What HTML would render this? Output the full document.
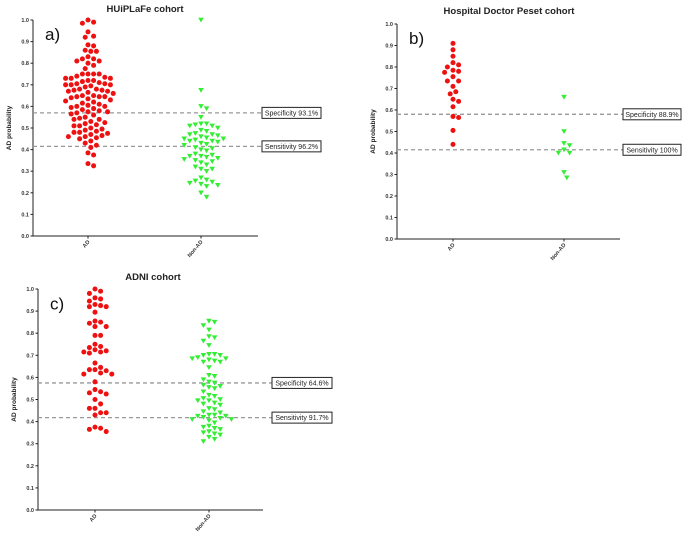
<!DOCTYPE html>
<html><head><meta charset="utf-8"><style>
html,body{margin:0;padding:0;background:#fff;}
svg{display:block;font-family:"Liberation Sans",sans-serif;}
</style></head><body>
<svg id="fig" width="685" height="538" viewBox="0 0 685 538" xmlns="http://www.w3.org/2000/svg"></svg>
<script>
// Panel a: HUiPLaFe cohort
const aAD = [1.0,0.99,0.985,0.945,0.925,0.92,0.885,0.88,0.86,0.855,0.855,0.83,0.82,0.82,0.81,0.81,0.8,0.79,0.775,0.75,0.75,0.75,0.75,0.74,0.735,0.73,0.73,0.73,0.72,0.72,0.715,0.71,0.705,0.705,0.7,0.7,0.7,0.695,0.69,0.68,0.68,0.675,0.675,0.67,0.67,0.665,0.66,0.65,0.65,0.645,0.645,0.645,0.64,0.635,0.63,0.625,0.62,0.615,0.61,0.605,0.6,0.6,0.595,0.59,0.585,0.58,0.575,0.575,0.57,0.565,0.56,0.55,0.545,0.54,0.54,0.53,0.525,0.52,0.515,0.51,0.51,0.5,0.495,0.49,0.485,0.48,0.48,0.475,0.47,0.465,0.46,0.46,0.455,0.45,0.44,0.43,0.42,0.41,0.385,0.375,0.335,0.325];
const aNonAD = [1.0,0.675,0.6,0.59,0.55,0.52,0.52,0.515,0.51,0.51,0.5,0.49,0.485,0.475,0.47,0.47,0.465,0.46,0.455,0.45,0.45,0.445,0.44,0.44,0.435,0.43,0.425,0.42,0.41,0.405,0.4,0.395,0.38,0.375,0.37,0.37,0.365,0.36,0.355,0.35,0.345,0.34,0.33,0.32,0.31,0.31,0.3,0.27,0.26,0.255,0.25,0.245,0.24,0.235,0.23,0.2,0.18];
const aCutoffs = [0.57, 0.415];
const aCutLabels = ["Specificity 93.1%", "Sensitivity 96.2%"];
// Panel b: Hospital Doctor Peset cohort
const bAD = [0.91,0.88,0.85,0.82,0.81,0.80,0.785,0.78,0.775,0.755,0.735,0.735,0.71,0.685,0.675,0.65,0.64,0.615,0.57,0.565,0.505,0.44];
const bNonAD = [0.66,0.50,0.445,0.435,0.415,0.40,0.40,0.31,0.285];
const bCutoffs = [0.58, 0.415];
const bCutLabels = ["Specificity 88.9%", "Sensitivity 100%"];
// Panel c: ADNI cohort
const cAD = [1.0,0.99,0.98,0.96,0.955,0.945,0.93,0.925,0.92,0.92,0.895,0.855,0.85,0.845,0.83,0.83,0.79,0.79,0.75,0.74,0.735,0.725,0.72,0.715,0.715,0.71,0.665,0.645,0.635,0.635,0.63,0.62,0.615,0.615,0.58,0.545,0.535,0.53,0.525,0.5,0.48,0.46,0.46,0.44,0.44,0.43,0.375,0.37,0.365,0.355];
const cNonAD = [0.855,0.85,0.835,0.815,0.785,0.78,0.765,0.745,0.705,0.705,0.7,0.7,0.69,0.685,0.685,0.68,0.675,0.67,0.67,0.645,0.61,0.605,0.59,0.58,0.575,0.565,0.56,0.555,0.55,0.535,0.52,0.515,0.505,0.5,0.495,0.495,0.485,0.48,0.475,0.46,0.455,0.445,0.44,0.43,0.43,0.425,0.425,0.42,0.415,0.41,0.41,0.405,0.395,0.38,0.375,0.37,0.365,0.355,0.35,0.345,0.34,0.33,0.32,0.31];
const cCutoffs = [0.575, 0.418];
const cCutLabels = ["Specificity 64.6%", "Sensitivity 91.7%"];
const categories = ["AD", "Non-AD"];
const yTicks = [0,0.1,0.2,0.3,0.4,0.5,0.6,0.7,0.8,0.9,1.0];

const NS = "http://www.w3.org/2000/svg";
const svg = document.getElementById('fig');
function mk(tag, attrs, parent){
  const e = document.createElementNS(NS, tag);
  for (const k in attrs) e.setAttribute(k, attrs[k]);
  (parent||svg).appendChild(e);
  return e;
}
function swarm(vals, yScale, d){
  const placed = [];
  const out = [];
  const sorted = vals.slice().sort((p,q)=>q-p);
  for (const v of sorted){
    const y = yScale(v);
    let best = 0;
    for (let k=0;k<60;k++){
      const cands = k===0?[0]:[k*d*0.5,-k*d*0.5];
      let ok=null;
      for (const dx of cands){
        if (placed.every(p=>Math.hypot(p[0]-dx,p[1]-y)>=d*0.98)){ok=dx;break;}
      }
      if (ok!==null){best=ok;break;}
    }
    placed.push([best,y]); out.push([v,best]);
  }
  return out;
}
function panel(p){
  const g = mk('g', {});
  
  
  const yS = v => p.y0 + (p.y1 - p.y0) * v;
  const t = mk('text',{x:p.tx,y:p.ty,'text-anchor':'middle','font-size':9.5,'font-weight':'bold',fill:'#222'},g);
  t.textContent = p.title;
  
  
  const pl = mk('text',{x:p.ax+12,y:yS(0.93)+5,'font-size':17,fill:'#111'},g);
  pl.textContent = p.label;
  
  
  const ya = mk('line',{x1:p.ax,y1:yS(0),x2:p.ax,y2:yS(1),stroke:'#222','stroke-width':1},g);
  
  
  const xa = mk('line',{x1:p.ax,y1:yS(0),x2:p.xend,y2:yS(0),stroke:'#222','stroke-width':1},g);
  
  
  yTicks.forEach(v=>{
    const tk = mk('line',{x1:p.ax-2.5,y1:yS(v),x2:p.ax,y2:yS(v),stroke:'#222'},g);
    
    
    const tl = mk('text',{x:p.ax-4,y:yS(v)+2,'text-anchor':'end','font-size':5.5,'font-weight':'bold',fill:'#333'},g);
    tl.textContent = v.toFixed(1);
    
    
  });
  const yl = mk('text',{x:0,y:0,'text-anchor':'middle','font-size':6.5,'font-weight':'bold',fill:'#222',transform:`translate(${p.ax-22},${yS(0.5)}) rotate(-90)`},g);
  yl.textContent = 'AD probability';
  
  
  categories.forEach((c,i)=>{
    const cx = p.cx[i];
    const tk = mk('line',{x1:cx,y1:yS(0),x2:cx,y2:yS(0)+2.5,stroke:'#222'},g);
    
    
    const tl = mk('text',{x:0,y:0,'text-anchor':'end','font-size':5.5,'font-weight':'bold',fill:'#333',transform:`translate(${cx+2},${yS(0)+6}) rotate(-50)`},g);
    tl.textContent = c;
    
    
  });
  p.cut.forEach((v,i)=>{
    const ln = mk('line',{x1:p.ax,y1:yS(v),x2:p.bx,y2:yS(v),stroke:'#999','stroke-width':1.3,'stroke-dasharray':'4,3'},g);
    
    
    const bw = p.bw;
    const bx = mk('rect',{x:p.bx,y:yS(v)-5.5,width:bw,height:11,fill:'#fff',stroke:'#222','stroke-width':1},g);
    
    
    const bt = mk('text',{x:p.bx+bw/2,y:yS(v)+2.6,'text-anchor':'middle','font-size':7,fill:'#222'},g);
    bt.textContent = p.cutLabels[i];
    
    
  });
  const d = p.d;
  swarm(p.ad, yS, d).forEach(([v,dx])=>{
    const c = mk('circle',{cx:p.cx[0]+dx,cy:yS(v),r:d*0.45,fill:'#ee1111'},g);
    
    
  });
  swarm(p.non, yS, d).forEach(([v,dx])=>{
    const x = p.cx[1]+dx, y = yS(v), s = d*0.5;
    const tr = mk('polygon',{points:`${x-s},${y-s*0.8} ${x+s},${y-s*0.8} ${x},${y+s*0.9}`,fill:'#33ee33'},g);
    
    
  });
}
panel({name:'panel-a-huiplafe',title:'HUiPLaFe cohort',label:'a)',tx:145,ty:12,ax:33,y0:236,y1:20,xend:258,cx:[88,201],bx:262,bw:59,cut:aCutoffs,cutLabels:aCutLabels,ad:aAD,non:aNonAD,d:5.6});
panel({name:'panel-b-peset',title:'Hospital Doctor Peset cohort',label:'b)',tx:509,ty:14,ax:397,y0:239,y1:24,xend:620,cx:[453,564],bx:623,bw:58,cut:bCutoffs,cutLabels:bCutLabels,ad:bAD,non:bNonAD,d:5.6});
panel({name:'panel-c-adni',title:'ADNI cohort',label:'c)',tx:153,ty:280,ax:38,y0:510,y1:289,xend:263,cx:[95,209],bx:272,bw:60,cut:cCutoffs,cutLabels:cCutLabels,ad:cAD,non:cNonAD,d:5.6});
</script>
</body></html>
